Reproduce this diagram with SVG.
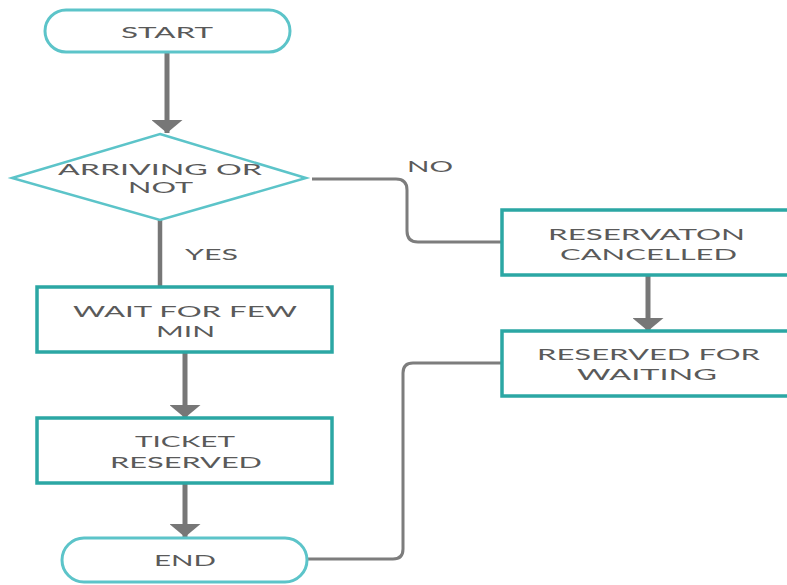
<svg xmlns="http://www.w3.org/2000/svg" width="787" height="585" viewBox="0 0 787 585">
<style>
.pill{fill:#fff;stroke:#5cc4c9;stroke-width:3}
.dia{fill:#fff;stroke:#5cc4c9;stroke-width:2.5}
.box{fill:#fff;stroke:#2ba7a4;stroke-width:3.5}
.t{font-family:Lato,"Open Sans","DejaVu Sans",sans-serif;font-size:16px;fill:#5a5a5a;text-anchor:middle}
.arr{fill:none;stroke:#777;stroke-width:5;marker-end:url(#ah)}
.ln{fill:none;stroke:#7d7d7d;stroke-width:3}
.lnb{fill:none;stroke:#777;stroke-width:4.5}
</style>
<defs>
<marker id="ah" viewBox="0 0 13 31" refX="13" refY="15.5" markerWidth="13" markerHeight="31" markerUnits="userSpaceOnUse" orient="auto">
<path d="M0,0 L13,15.5 L0,31 Z" fill="#777"/>
</marker>
</defs>
<rect width="787" height="585" fill="#fff"/>
<g id="connectors">
<path class="arr" d="M167,52 V133"/>
<path class="lnb" d="M160,220 V287"/>
<path class="arr" d="M185,352 V418"/>
<path class="arr" d="M185,483 V537"/>
<path class="arr" d="M648,275 V331"/>
<path class="ln" d="M312,179 H396 Q407,179 407,190 V231 Q407,242 418,242 H501"/>
<path class="ln" d="M307,559 H393 Q403,559 403,549 V373 Q403,363 413,363 H501"/>
<text class="t" x="430" y="172" textLength="46" lengthAdjust="spacingAndGlyphs">NO</text>
<text class="t" x="211.5" y="260" textLength="53" lengthAdjust="spacingAndGlyphs">YES</text>
</g>
<g id="start">
<rect class="pill" x="45" y="10" width="245" height="42" rx="21"/>
<text class="t" x="167" y="38" textLength="92" lengthAdjust="spacingAndGlyphs">START</text>
</g>
<g id="decision">
<polygon class="dia" points="160,134 306,178 160,220 12,178"/>
<text class="t" x="160" y="175" textLength="204" lengthAdjust="spacingAndGlyphs">ARRIVING OR</text>
<text class="t" x="160.5" y="193" textLength="65" lengthAdjust="spacingAndGlyphs">NOT</text>
</g>
<g id="wait">
<rect class="box" x="37" y="287" width="295" height="65"/>
<text class="t" x="185" y="317" textLength="224" lengthAdjust="spacingAndGlyphs">WAIT FOR FEW</text>
<text class="t" x="185.5" y="337" textLength="59" lengthAdjust="spacingAndGlyphs">MIN</text>
</g>
<g id="ticket">
<rect class="box" x="37" y="418" width="295" height="65"/>
<text class="t" x="185" y="447" textLength="100" lengthAdjust="spacingAndGlyphs">TICKET</text>
<text class="t" x="186" y="468" textLength="152" lengthAdjust="spacingAndGlyphs">RESERVED</text>
</g>
<g id="end">
<rect class="pill" x="62" y="538" width="245" height="44" rx="22"/>
<text class="t" x="185" y="566" textLength="62" lengthAdjust="spacingAndGlyphs">END</text>
</g>
<g id="cancelled">
<rect class="box" x="502" y="210" width="292" height="65"/>
<text class="t" x="646.5" y="240" textLength="197" lengthAdjust="spacingAndGlyphs">RESERVATON</text>
<text class="t" x="648.5" y="260" textLength="177" lengthAdjust="spacingAndGlyphs">CANCELLED</text>
</g>
<g id="waiting">
<rect class="box" x="502" y="331" width="292" height="65"/>
<text class="t" x="648.5" y="360" textLength="223" lengthAdjust="spacingAndGlyphs">RESERVED FOR</text>
<text class="t" x="647" y="380" textLength="140" lengthAdjust="spacingAndGlyphs">WAITING</text>
</g>
</svg>
